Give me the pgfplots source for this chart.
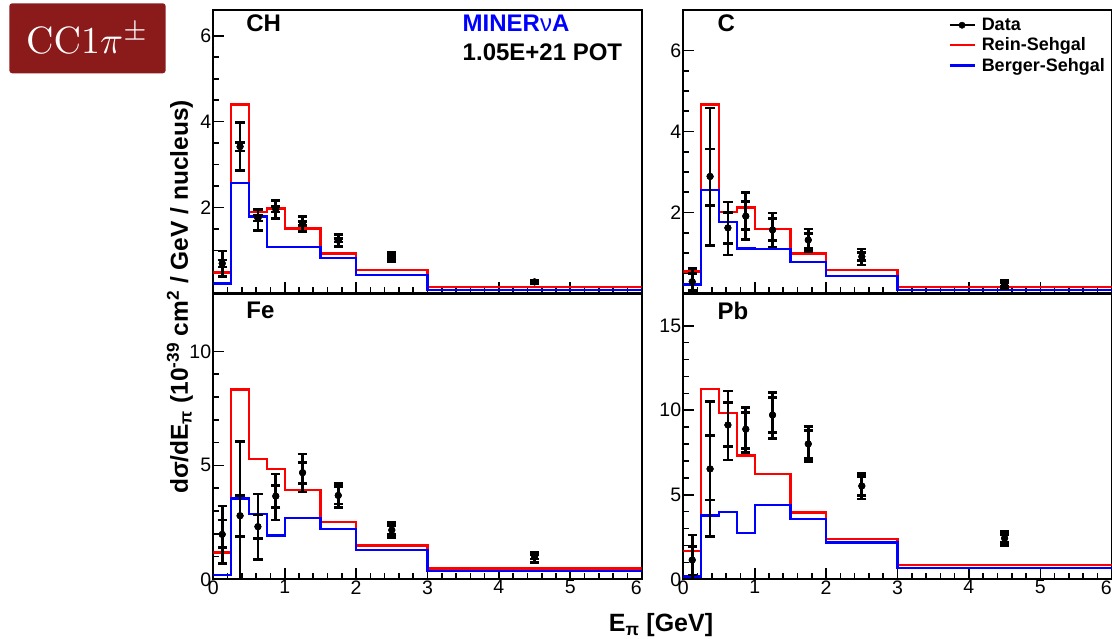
\documentclass[border=0pt]{standalone}
\usepackage[no-math]{fontspec}
\setmainfont{Liberation Sans}
\usepackage{pgfplots}
\pgfplotsset{compat=1.18}
\definecolor{boxred}{RGB}{139,27,27}

\pgfplotsset{
 panel/.style={scale only axis, width=428.4pt, xmin=0, xmax=6, ymin=0, anchor=south west,
   axis line style={line width=2pt},
   tick style={black, line width=1.6pt},
   major tick length=11pt, minor tick length=6pt,
   tick align=inside, xtick pos=bottom, ytick pos=left,
   xtick={0,1,2,3,4,5,6}, minor x tick num=4,
   ticklabel style={font=\fontsize{19.5}{20}\selectfont},
   /pgf/number format/assume math mode=true,
   xticklabel style={inner sep=1pt}, yticklabel style={inner sep=2pt},
 },
 toppanel/.style={height=283.5pt, xticklabels={}},
 botpanel/.style={height=284.8pt, xticklabels={0,1,2,3,4,5,\llap{6}}},
 rs/.style={const plot, mark=none, red, line width=2.3pt},
 bs/.style={const plot, mark=none, blue, line width=2.3pt},
 vseg/.style={forget plot, draw=black, line width=2.8pt, mark=none},
 dat/.style={only marks, black, line width=2.7pt, mark=*, mark size=3.3pt,
   mark options={line width=0.4pt},
   error bars/.cd, y dir=both, y explicit,
   error bar style={line width=2.7pt, black},
   error mark options={rotate=90, mark size=4.6pt, line width=2.7pt, black}},
}
\tikzset{lab/.style={font=\bfseries\fontsize{24}{24}\selectfont, anchor=west}}

\begin{document}
\begin{tikzpicture}
\useasboundingbox (0,0) rectangle (1112pt,639pt);

% ---------------- CH ----------------
\begin{axis}[panel, toppanel, at={(213.3pt,345.5pt)}, ymax=6.6,
  ytick={0,2,4,6}, yticklabels={,2,4,6}, minor y tick num=3]
\addplot[rs] coordinates {(0,0.49)(0.25,4.40)(0.5,1.89)(0.75,1.98)(1,1.51)(1.5,0.93)(2,0.54)(3,0.155)(6,0.155)};
\addplot[bs] coordinates {(0,0.23)(0.25,2.58)(0.5,1.79)(0.75,1.09)(1,1.09)(1.5,0.82)(2,0.43)(3,0.08)(6,0.08)};
\addplot[vseg] coordinates {(0.125,0.40)(0.125,0.99)};
\addplot[vseg] coordinates {(0.375,2.86)(0.375,3.98)};
\addplot[vseg] coordinates {(0.625,1.46)(0.625,1.96)};
\addplot[vseg] coordinates {(0.875,1.75)(0.875,2.16)};
\addplot[vseg] coordinates {(1.25,1.44)(1.25,1.80)};
\addplot[vseg] coordinates {(1.75,1.09)(1.75,1.38)};
\addplot[vseg] coordinates {(2.5,0.75)(2.5,0.96)};
\addplot[vseg] coordinates {(4.5,0.24)(4.5,0.30)};
\addplot[dat] coordinates {
 (0.125,0.70) += (0,0.29) -= (0,0.30)
 (0.375,3.42) += (0,0.56) -= (0,0.56)
 (0.625,1.75) += (0,0.21) -= (0,0.29)
 (0.875,1.96) += (0,0.20) -= (0,0.21)
 (1.25,1.63) += (0,0.17) -= (0,0.19)
 (1.75,1.24) += (0,0.14) -= (0,0.15)
 (2.5,0.85) += (0,0.11) -= (0,0.10)
 (4.5,0.27) += (0,0.03) -= (0,0.03)};
\addplot[dat] coordinates {
 (0.125,0.70) += (0,0.08) -= (0,0.08)
 (0.375,3.42) += (0,0.10) -= (0,0.10)
 (0.625,1.75) += (0,0.06) -= (0,0.06)
 (0.875,1.96) += (0,0.06) -= (0,0.06)
 (1.25,1.63) += (0,0.05) -= (0,0.05)
 (1.75,1.24) += (0,0.04) -= (0,0.04)
 (2.5,0.85) += (0,0.03) -= (0,0.03)
 (4.5,0.27) += (0,0.01) -= (0,0.01)};
\node[lab] at (rel axis cs:0.069,0.954) {CH};
\node[lab, text=blue] at (rel axis cs:0.574,0.954) {MINER\textmd{ν}A};
\node[lab] at (rel axis cs:0.574,0.852) {1.05E+21 POT};
\end{axis}

% ---------------- C ----------------
\begin{axis}[panel, toppanel, at={(683.3pt,345.5pt)}, ymax=7.0,
  ytick={0,2,4,6}, yticklabels={,2,4,6}, minor y tick num=3,
  legend style={at={(0.618,0.975)}, anchor=north west, draw=none, fill=none,
    font=\bfseries\fontsize{18}{18}\selectfont, row sep=3.7pt, inner sep=0pt,
    nodes={inner sep=1pt}},
  legend cell align=left]
\addlegendimage{legend image code/.code={\draw[black, line width=2.3pt] (0pt,0pt) -- (25pt,0pt); \fill[black] (12.5pt,0pt) circle (3.2pt); \path (31pt,0pt);}}
\addlegendentry{Data}
\addlegendimage{legend image code/.code={\draw[red, line width=2.6pt] (0pt,0pt) -- (25pt,0pt); \path (31pt,0pt);}}
\addlegendentry{Rein-Sehgal}
\addlegendimage{legend image code/.code={\draw[blue, line width=2.6pt] (0pt,0pt) -- (25pt,0pt); \path (31pt,0pt);}}
\addlegendentry{Berger-Sehgal}
\addplot[forget plot, rs] coordinates {(0,0.54)(0.25,4.67)(0.5,2.01)(0.75,2.12)(1,1.60)(1.5,0.99)(2,0.58)(3,0.165)(6,0.165)};
\addplot[forget plot, bs] coordinates {(0,0.22)(0.25,2.56)(0.5,1.76)(0.75,1.11)(1,1.09)(1.5,0.78)(2,0.43)(3,0.08)(6,0.08)};
\addplot[vseg] coordinates {(0.125,0)(0.125,0.62)};
\addplot[vseg] coordinates {(0.375,1.18)(0.375,4.58)};
\addplot[vseg] coordinates {(0.625,0.95)(0.625,2.26)};
\addplot[vseg] coordinates {(0.875,1.34)(0.875,2.49)};
\addplot[vseg] coordinates {(1.25,1.15)(1.25,1.99)};
\addplot[vseg] coordinates {(1.75,1.03)(1.75,1.59)};
\addplot[vseg] coordinates {(2.5,0.70)(2.5,1.10)};
\addplot[vseg] coordinates {(4.5,0.12)(4.5,0.33)};
\addplot[forget plot, dat] coordinates {
 (0.125,0.29) += (0,0.33) -= (0,0.34)
 (0.375,2.89) += (0,1.69) -= (0,1.71)
 (0.625,1.62) += (0,0.64) -= (0,0.67)
 (0.875,1.91) += (0,0.58) -= (0,0.57)
 (1.25,1.57) += (0,0.42) -= (0,0.42)
 (1.75,1.32) += (0,0.27) -= (0,0.29)
 (2.5,0.91) += (0,0.19) -= (0,0.21)
 (4.5,0.22) += (0,0.11) -= (0,0.10)};
\addplot[forget plot, dat] coordinates {
 (0.125,0.29) += (0,0.20) -= (0,0.21)
 (0.375,2.89) += (0,0.68) -= (0,0.71)
 (0.625,1.62) += (0,0.38) -= (0,0.38)
 (0.875,1.91) += (0,0.36) -= (0,0.33)
 (1.25,1.57) += (0,0.28) -= (0,0.27)
 (1.75,1.32) += (0,0.16) -= (0,0.21)
 (2.5,0.91) += (0,0.10) -= (0,0.10)
 (4.5,0.22) += (0,0.05) -= (0,0.05)};
\node[lab] at (rel axis cs:0.072,0.954) {C};
\end{axis}

% ---------------- Fe ----------------
\begin{axis}[panel, botpanel, at={(213.3pt,59.7pt)}, ymax=12.5,
  ytick={0,5,10}, minor y tick num=4]
\addplot[rs] coordinates {(0,1.17)(0.25,8.33)(0.5,5.28)(0.75,4.84)(1,3.92)(1.5,2.50)(2,1.48)(3,0.48)(6,0.48)};
\addplot[bs] coordinates {(0,0.19)(0.25,3.54)(0.5,2.87)(0.75,1.92)(1,2.70)(1.5,2.22)(2,1.29)(3,0.37)(6,0.37)};
\addplot[vseg] coordinates {(0.125,0.70)(0.125,3.22)};
\addplot[vseg] coordinates {(0.375,0)(0.375,6.04)};
\addplot[vseg] coordinates {(0.625,0.88)(0.625,3.74)};
\addplot[vseg] coordinates {(0.875,2.60)(0.875,4.62)};
\addplot[vseg] coordinates {(1.25,3.83)(1.25,5.50)};
\addplot[vseg] coordinates {(1.75,3.16)(1.75,4.21)};
\addplot[vseg] coordinates {(2.5,1.84)(2.5,2.50)};
\addplot[vseg] coordinates {(4.5,0.75)(4.5,1.19)};
\addplot[dat] coordinates {
 (0.125,1.97) += (0,1.25) -= (0,1.27)
 (0.375,2.79) += (0,3.25) -= (0,2.79)
 (0.625,2.31) += (0,1.43) -= (0,1.43)
 (0.875,3.65) += (0,0.97) -= (0,1.05)
 (1.25,4.68) += (0,0.82) -= (0,0.85)
 (1.75,3.68) += (0,0.53) -= (0,0.52)
 (2.5,2.16) += (0,0.34) -= (0,0.32)
 (4.5,0.99) += (0,0.20) -= (0,0.24)};
\addplot[dat] coordinates {
 (0.125,1.97) += (0,0.63) -= (0,0.58)
 (0.375,2.79) += (0,0.88) -= (0,0.92)
 (0.625,2.31) += (0,0.51) -= (0,0.51)
 (0.875,3.65) += (0,0.46) -= (0,0.49)
 (1.25,4.68) += (0,0.45) -= (0,0.47)
 (1.75,3.68) += (0,0.38) -= (0,0.37)
 (2.5,2.16) += (0,0.20) -= (0,0.20)
 (4.5,0.99) += (0,0.10) -= (0,0.10)};
\node[lab] at (rel axis cs:0.069,0.943) {Fe};
\end{axis}

% ---------------- Pb ----------------
\begin{axis}[panel, botpanel, at={(683.3pt,59.7pt)}, ymax=16.85,
  ytick={0,5,10,15}, minor y tick num=4]
\addplot[rs] coordinates {(0,1.68)(0.25,11.24)(0.5,9.82)(0.75,7.32)(1,6.23)(1.5,3.96)(2,2.39)(3,0.85)(6,0.85)};
\addplot[bs] coordinates {(0,0.16)(0.25,3.77)(0.5,3.98)(0.75,2.72)(1,4.40)(1.5,3.57)(2,2.17)(3,0.65)(6,0.65)};
\addplot[vseg] coordinates {(0.125,0)(0.125,2.62)};
\addplot[vseg] coordinates {(0.375,2.52)(0.375,10.51)};
\addplot[vseg] coordinates {(0.625,7.06)(0.625,11.14)};
\addplot[vseg] coordinates {(0.875,7.51)(0.875,10.18)};
\addplot[vseg] coordinates {(1.25,8.34)(1.25,11.07)};
\addplot[vseg] coordinates {(1.75,6.96)(1.75,9.03)};
\addplot[vseg] coordinates {(2.5,4.75)(2.5,6.27)};
\addplot[vseg] coordinates {(4.5,1.98)(4.5,2.83)};
\addplot[dat] coordinates {
 (0.125,1.14) += (0,1.48) -= (0,1.14)
 (0.375,6.53) += (0,3.98) -= (0,4.01)
 (0.625,9.13) += (0,2.01) -= (0,2.07)
 (0.875,8.88) += (0,1.30) -= (0,1.37)
 (1.25,9.72) += (0,1.35) -= (0,1.38)
 (1.75,8.01) += (0,1.02) -= (0,1.05)
 (2.5,5.52) += (0,0.75) -= (0,0.77)
 (4.5,2.43) += (0,0.40) -= (0,0.45)};
\addplot[dat] coordinates {
 (0.125,1.14) += (0,0.79) -= (0,0.88)
 (0.375,6.53) += (0,1.97) -= (0,1.84)
 (0.625,9.13) += (0,1.32) -= (0,1.28)
 (0.875,8.88) += (0,1.00) -= (0,1.13)
 (1.25,9.72) += (0,1.03) -= (0,1.04)
 (1.75,8.01) += (0,0.80) -= (0,0.85)
 (2.5,5.52) += (0,0.55) -= (0,0.57)
 (4.5,2.43) += (0,0.20) -= (0,0.25)};
\node[lab] at (rel axis cs:0.072,0.943) {Pb};
\end{axis}

% ---------------- titles ----------------
\node[rotate=90, font=\bfseries\fontsize{24.5}{24.5}\selectfont] at (180pt,342pt)
  {dσ/dE\textsubscript{π} (10\textsuperscript{-39} cm\textsuperscript{2} / GeV / nucleus)};
\node[font=\bfseries\fontsize{25}{25}\selectfont] at (661pt,14pt) {E\textsubscript{π} [GeV]};

% ---------------- badge ----------------
\fill[boxred, rounded corners=3pt] (9.3pt,565.7pt) rectangle (165.7pt,635.7pt);
\node[text=white, scale=3.8] at (87.5pt,600.5pt) {$\mathrm{CC1}\pi^{\pm}$};
\end{tikzpicture}
\end{document}
